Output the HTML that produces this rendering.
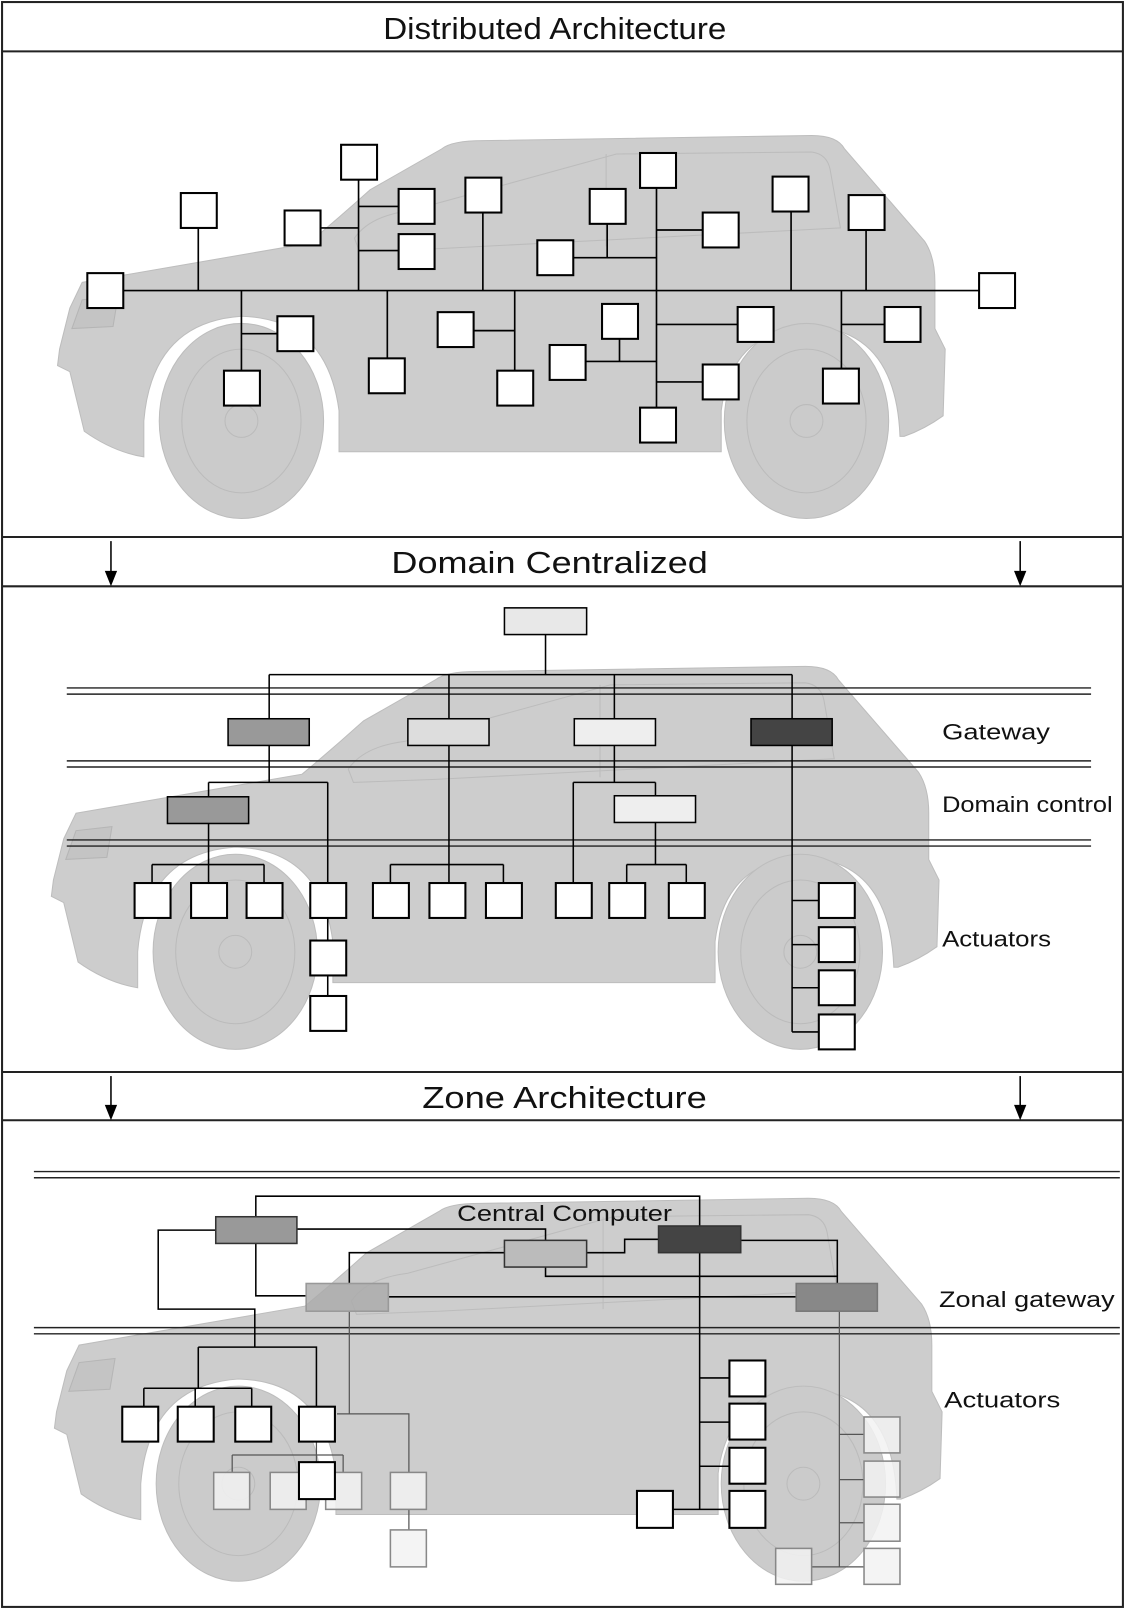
<!DOCTYPE html>
<html><head><meta charset="utf-8"><style>
html,body{margin:0;padding:0;background:#fff;}
svg{display:block;}
text{font-family:"Liberation Sans",sans-serif;fill:#111;}
</style></head><body>
<svg width="1126" height="1610" viewBox="0 0 1096 1568" preserveAspectRatio="none" xmlns="http://www.w3.org/2000/svg">
<defs>
<g id="car">
  <path d="M68,300 L80,275 L300,237 Q330,212 360,185 L430,145 Q440,137 470,137 L790,132 Q815,132 822,145 L900,235 Q910,250 910,275 L910,320 L920,340 L918,405 Q900,418 880,425 L876,425 Q872,322 790,318 Q712,320 702,400 L702,440 L330,440 L330,400 Q318,310 235,308 Q148,314 140,410 L140,445 Q110,440 82,420 L68,362 L56,356 L58,340 Z" fill="#cdcdcd" stroke="#bdbdbd" stroke-width="1"/>
  <path d="M70,320 L80,292 L115,288 L110,318 Z" fill="#c4c4c4" stroke="#b5b5b5"/>
  <path d="M345,232 Q360,210 400,205 L600,150 L790,148 Q805,150 808,165 L818,222 L430,242 L350,245 Z" fill="none" stroke="#bcbcbc" stroke-width="1"/>
  <line x1="590" y1="150" x2="590" y2="240" stroke="#bcbcbc"/>
  <g fill="#cbcbcb" stroke="#bdbdbd">
    <ellipse cx="235" cy="410" rx="80" ry="95"/>
    <ellipse cx="785" cy="410" rx="80" ry="95"/>
  </g>
  <g fill="none" stroke="#bbbbbb">
    <ellipse cx="235" cy="410" rx="58" ry="70"/>
    <ellipse cx="785" cy="410" rx="58" ry="70"/>
    <circle cx="235" cy="410" r="16"/>
    <circle cx="785" cy="410" r="16"/>
  </g>
</g>
</defs>

<use href="#car"/>
<use href="#car" transform="translate(-6,517)"/>
<use href="#car" transform="translate(-3,1035)"/>

<g fill="none" stroke="#222" stroke-width="2">
  <rect x="2" y="2" width="1091" height="1563"/>
  <line x1="2" y1="50" x2="1093" y2="50"/>
  <line x1="2" y1="523" x2="1093" y2="523"/>
  <line x1="2" y1="571" x2="1093" y2="571"/>
  <line x1="2" y1="1044" x2="1093" y2="1044"/>
  <line x1="2" y1="1091" x2="1093" y2="1091"/>
</g>
<text x="373" y="38" font-size="30" textLength="334" lengthAdjust="spacingAndGlyphs">Distributed Architecture</text>
<text x="381" y="558" font-size="30" textLength="308" lengthAdjust="spacingAndGlyphs">Domain Centralized</text>
<text x="411" y="1079" font-size="30" textLength="277" lengthAdjust="spacingAndGlyphs">Zone Architecture</text>
<g stroke="#000" stroke-width="1.5">
  <line x1="108" y1="527" x2="108" y2="560"/>
  <line x1="993" y1="527" x2="993" y2="560"/>
  <line x1="108" y1="1048" x2="108" y2="1080"/>
  <line x1="993" y1="1048" x2="993" y2="1080"/>
</g>
<g fill="#000">
  <path d="M102,556 L114,556 L108,571 Z"/>
  <path d="M987,556 L999,556 L993,571 Z"/>
  <path d="M102,1076 L114,1076 L108,1091 Z"/>
  <path d="M987,1076 L999,1076 L993,1091 Z"/>
</g>

<!-- PANEL 1 -->
<g stroke="#000" stroke-width="1.6" fill="none">
  <path d="M120,283 H955"/>
  <path d="M193,222 V283 M349,175 V283 M349,201 H388 M349,244 H388 M311,222 H349 M470,207 V283 M591,218 V251 M557,251 H639 M639,183 V400 M639,224 H684 M770,206 V283 M843,224 V283"/>
  <path d="M235,283 V361 M235,325 H270 M377,283 V349 M501,283 V361 M461,322 H501 M603,330 V352 M569,352 H639 M639,316 H718 M639,372 H684 M819,283 V359 M819,316 H861"/>
</g>
<g fill="#fff" stroke="#000" stroke-width="2">
  <rect x="85" y="266" width="35" height="34"/><rect x="953" y="266" width="35" height="34"/>
  <rect x="176" y="188" width="35" height="34"/><rect x="332" y="141" width="35" height="34"/>
  <rect x="388" y="184" width="35" height="34"/><rect x="388" y="228" width="35" height="34"/>
  <rect x="277" y="205" width="35" height="34"/><rect x="453" y="173" width="35" height="34"/>
  <rect x="574" y="184" width="35" height="34"/><rect x="523" y="234" width="35" height="34"/>
  <rect x="623" y="149" width="35" height="34"/><rect x="684" y="207" width="35" height="34"/>
  <rect x="752" y="172" width="35" height="34"/><rect x="826" y="190" width="35" height="34"/>
  <rect x="218" y="361" width="35" height="34"/><rect x="270" y="308" width="35" height="34"/>
  <rect x="359" y="349" width="35" height="34"/><rect x="484" y="361" width="35" height="34"/>
  <rect x="426" y="304" width="35" height="34"/><rect x="586" y="296" width="35" height="34"/>
  <rect x="535" y="336" width="35" height="34"/><rect x="718" y="299" width="35" height="34"/>
  <rect x="684" y="355" width="35" height="34"/><rect x="623" y="397" width="35" height="34"/>
  <rect x="801" y="359" width="35" height="34"/><rect x="861" y="299" width="35" height="34"/>
</g>

<!-- PANEL 2 -->
<g stroke="#222" stroke-width="1.4">
  <line x1="65" y1="670" x2="1062" y2="670"/><line x1="65" y1="676" x2="1062" y2="676"/>
  <line x1="65" y1="741" x2="1062" y2="741"/><line x1="65" y1="747" x2="1062" y2="747"/>
  <line x1="65" y1="818" x2="1062" y2="818"/><line x1="65" y1="824" x2="1062" y2="824"/>
</g>
<g stroke="#000" stroke-width="1.5" fill="none">
  <path d="M531,618 V657 M262,657 H771 M262,657 V700 M437,657 V700 M598,657 V700 M771,657 V700"/>
  <path d="M262,726 V762 M203,762 H319 M203,762 V776 M319,762 V860 M203,802 V842 M148,842 H257 M148,842 V860 M203,842 V860 M257,842 V860 M319,894 V916 M319,950 V970"/>
  <path d="M437,726 V842 M380,842 H490 M380,842 V860 M437,842 V860 M490,842 V860"/>
  <path d="M598,726 V762 M558,762 H638 M558,762 V860 M638,762 V775 M638,801 V842 M610,842 H668 M610,842 V860 M668,842 V860"/>
  <path d="M771,726 V1005 M771,877 H797 M771,920 H797 M771,962 H797 M771,1005 H797"/>
</g>
<g stroke="#000" stroke-width="1.5">
  <rect x="491" y="592" width="80" height="26" fill="#e8e8e8"/>
  <rect x="222" y="700" width="79" height="26" fill="#999"/>
  <rect x="397" y="700" width="79" height="26" fill="#ddd"/>
  <rect x="559" y="700" width="79" height="26" fill="#eee"/>
  <rect x="731" y="700" width="79" height="26" fill="#444"/>
  <rect x="163" y="776" width="79" height="26" fill="#999"/>
  <rect x="598" y="775" width="79" height="26" fill="#eee"/>
</g>
<g fill="#fff" stroke="#000" stroke-width="2">
  <rect x="131" y="860" width="35" height="34"/><rect x="186" y="860" width="35" height="34"/><rect x="240" y="860" width="35" height="34"/>
  <rect x="302" y="860" width="35" height="34"/><rect x="302" y="916" width="35" height="34"/><rect x="302" y="970" width="35" height="34"/>
  <rect x="363" y="860" width="35" height="34"/><rect x="418" y="860" width="35" height="34"/><rect x="473" y="860" width="35" height="34"/>
  <rect x="541" y="860" width="35" height="34"/><rect x="593" y="860" width="35" height="34"/><rect x="651" y="860" width="35" height="34"/>
  <rect x="797" y="860" width="35" height="34"/><rect x="797" y="903" width="35" height="34"/><rect x="797" y="945" width="35" height="34"/><rect x="797" y="988" width="35" height="34"/>
</g>
<text x="917" y="720" font-size="22" textLength="105" lengthAdjust="spacingAndGlyphs">Gateway</text>
<text x="917" y="791" font-size="22" textLength="166" lengthAdjust="spacingAndGlyphs">Domain control</text>
<text x="917" y="922" font-size="22" textLength="106" lengthAdjust="spacingAndGlyphs">Actuators</text>

<!-- PANEL 3 -->
<g stroke="#222" stroke-width="1.4">
  <line x1="33" y1="1141" x2="1090" y2="1141"/><line x1="33" y1="1147" x2="1090" y2="1147"/>
  <line x1="33" y1="1293" x2="1090" y2="1293"/><line x1="33" y1="1299" x2="1090" y2="1299"/>
</g>
<g stroke="#000" stroke-width="1.5" fill="none">
  <path d="M249,1185 V1165 H681 V1194"/>
  <path d="M210,1198 H154 V1275 H248 V1312"/>
  <path d="M289,1197 H531 V1208"/>
  <path d="M249,1211 V1262 H298"/>
  <path d="M491,1220 H340 V1250"/>
  <path d="M571,1220 H608 V1207 H641"/>
  <path d="M531,1234 V1243 H815 V1250"/>
  <path d="M721,1208 H815 V1243"/>
  <path d="M378,1263 H775"/>
  <path d="M193,1312 H308 V1370 M193,1312 V1352 M140,1352 H245 M140,1352 V1370 M190,1352 V1370 M245,1352 V1370"/>
  <path d="M681,1220 V1470 M681,1342 H710 M681,1385 H710 M681,1428 H710 M681,1470 H710 M655,1470 H681"/>
</g>
<g stroke="#555" stroke-width="1.2" fill="none">
  <path d="M340,1277 V1377 M328,1377 H398 V1434 M398,1470 V1490"/>
  <path d="M226,1417 H334 M226,1417 V1434 M334,1417 V1434 M308,1404 V1424"/>
  <path d="M817,1277 V1526 M817,1397 H841 M817,1441 H841 M817,1483 H841 M790,1526 H841"/>
</g>
<g stroke="#333" stroke-width="1.5">
  <rect x="210" y="1185" width="79" height="26" fill="#999"/>
  <rect x="491" y="1208" width="80" height="26" fill="#bbb"/>
  <rect x="641" y="1194" width="80" height="26" fill="#444"/>
  <rect x="298" y="1250" width="80" height="27" fill="#aaa" fill-opacity="0.8" stroke="#999"/>
  <rect x="775" y="1250" width="79" height="27" fill="#888" stroke="#777"/>
</g>
<g fill="#fff" stroke="#000" stroke-width="2">
  <rect x="119" y="1370" width="35" height="34"/><rect x="173" y="1370" width="35" height="34"/>
  <rect x="229" y="1370" width="35" height="34"/><rect x="291" y="1370" width="35" height="34"/>
  <rect x="710" y="1325" width="35" height="35"/><rect x="710" y="1367" width="35" height="35"/>
  <rect x="710" y="1410" width="35" height="35"/><rect x="710" y="1452" width="35" height="36"/>
  <rect x="620" y="1452" width="35" height="36"/>
</g>
<g fill="#f2f2f2" fill-opacity="0.85" stroke="#888" stroke-width="1.5">
  <rect x="208" y="1434" width="35" height="36"/><rect x="263" y="1434" width="35" height="36"/>
  <rect x="317" y="1434" width="35" height="36"/><rect x="380" y="1434" width="35" height="36"/>
  <rect x="380" y="1490" width="35" height="36"/>
  <rect x="841" y="1380" width="35" height="35"/><rect x="841" y="1423" width="35" height="35"/>
  <rect x="841" y="1465" width="35" height="36"/><rect x="841" y="1508" width="35" height="35"/>
  <rect x="755" y="1508" width="35" height="35"/>
</g>
<rect x="291" y="1424" width="35" height="36" fill="#fff" stroke="#000" stroke-width="2"/>
<text x="445" y="1189" font-size="22" textLength="209" lengthAdjust="spacingAndGlyphs">Central Computer</text>
<text x="914" y="1273" font-size="22" textLength="171" lengthAdjust="spacingAndGlyphs">Zonal gateway</text>
<text x="919" y="1371" font-size="22" textLength="113" lengthAdjust="spacingAndGlyphs">Actuators</text>
</svg>
</body></html>
